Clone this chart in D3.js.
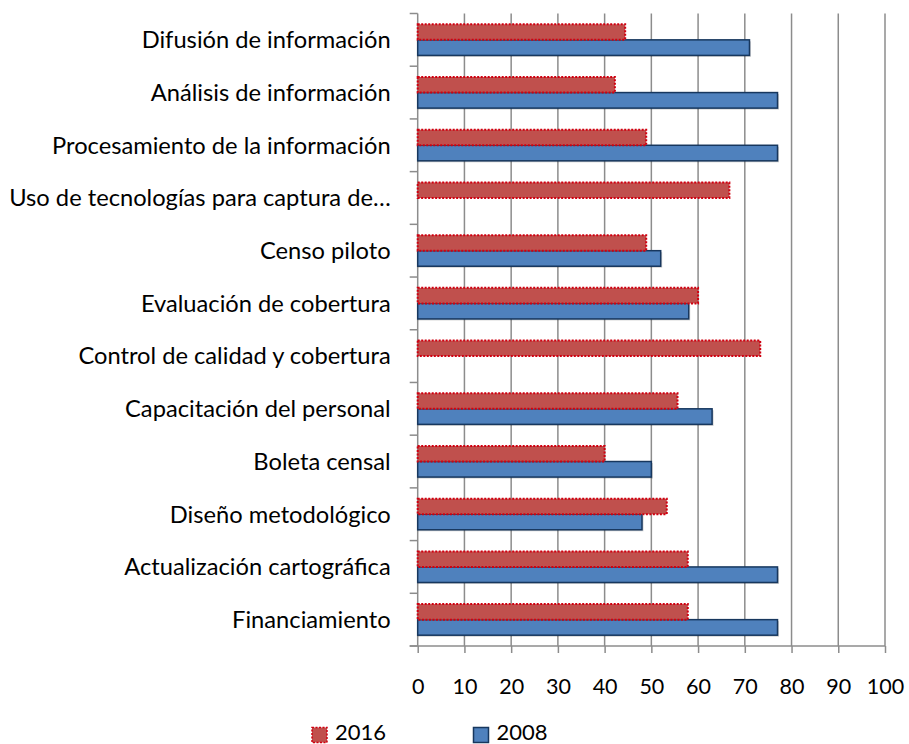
<!DOCTYPE html>
<html>
<head>
<meta charset="utf-8">
<script src="https://cdn.jsdelivr.net/npm/d3@7/dist/d3.min.js"></script>
<style>
  body { margin: 0; background: #fff; }
  text { font-family: Lato, "Open Sans", sans-serif; fill: #000; }
</style>
</head>
<body>
<div id="chart"></div>
<script>
// categories top to bottom
const categories = [
  "Difusión de información",
  "Análisis de información",
  "Procesamiento de la información",
  "Uso de tecnologías para captura de…",
  "Censo piloto",
  "Evaluación de cobertura",
  "Control de calidad y cobertura",
  "Capacitación del personal",
  "Boleta censal",
  "Diseño metodológico",
  "Actualización cartográfica",
  "Financiamiento"
];
const years = ["2016", "2008"];
const values2016 = [44.4, 42.2, 48.9, 66.7, 48.9, 60, 73.3, 55.6, 40, 53.3, 57.8, 57.8];
const values2008 = [71, 77, 77, null, 52, 58, null, 63, 50, 48, 77, 77];
const xTicks = [0, 10, 20, 30, 40, 50, 60, 70, 80, 90, 100];

function barChart() {
  let width = 909, height = 744;
  let margin = { top: 13.5, right: 24, bottom: 98, left: 417.7 };
  let chartWidth = width - margin.left - margin.right;
  let chartHeight = height - margin.top - margin.bottom;

  let svg = d3.select("#chart").append("svg")
    .attr("width", width)
    .attr("height", height);

  let chartGroup = svg.append("g")
    .attr("transform", `translate(${margin.left}, ${margin.top})`);

  let xScale = d3.scaleLinear().domain([0, 100]).range([0, chartWidth]);
  let yScale = d3.scaleBand().domain(categories).range([0, chartHeight])
    .paddingInner(0.41).paddingOuter(0.205);
  let subScale = d3.scaleBand().domain(years).range([0, yScale.bandwidth()]);

  //gridlines
  chartGroup.selectAll(".grid")
    .data(xTicks.slice(1))
    .enter().append("line")
    .attr("x1", d => xScale(d)).attr("x2", d => xScale(d))
    .attr("y1", 0).attr("y2", chartHeight)
    .attr("stroke", "#8c8c8c").attr("stroke-width", 1.5);

  //bottom axis
  let xAxis = d3.axisBottom(xScale).tickValues(xTicks).tickSize(7).tickPadding(26);
  let xg = chartGroup.append("g")
    .attr("transform", `translate(0, ${chartHeight})`)
    .call(xAxis);
  xg.select(".domain").attr("stroke", "#8c8c8c").attr("stroke-width", 1.5)
    .attr("d", `M-8,0H${chartWidth}`);
  xg.selectAll(".tick line").attr("stroke", "#8c8c8c").attr("stroke-width", 1.5);
  xg.selectAll(".tick text").style("font-size", "21.5px")
    .style("font-family", "Lato, sans-serif").attr("fill", "#000");

  //left axis line and category ticks
  chartGroup.append("line")
    .attr("x1", 0).attr("x2", 0).attr("y1", 0).attr("y2", chartHeight)
    .attr("stroke", "#8c8c8c").attr("stroke-width", 1.5);
  let step = yScale.step();
  chartGroup.selectAll(".ctick")
    .data(d3.range(categories.length + 1))
    .enter().append("line")
    .attr("x1", -8).attr("x2", 0)
    .attr("y1", d => d * step).attr("y2", d => d * step)
    .attr("stroke", "#8c8c8c").attr("stroke-width", 1.5);

  //category labels
  chartGroup.selectAll(".clabel")
    .data(categories)
    .enter().append("text")
    .attr("x", -27)
    .attr("y", d => yScale(d) + yScale.bandwidth() / 2)
    .attr("dy", "0.35em")
    .attr("text-anchor", "end")
    .style("font-size", "23.7px")
    .text(d => d);

  //2008 bars with shadow
  let blueData = categories.map((c, i) => ({ c: c, v: values2008[i] })).filter(d => d.v != null);
  chartGroup.selectAll(".shadow")
    .data(blueData)
    .enter().append("rect")
    .attr("x", 0)
    .attr("y", d => yScale(d.c) + subScale("2008") + 1.5)
    .attr("width", d => xScale(d.v) + 1.5)
    .attr("height", subScale.bandwidth())
    .attr("fill", "#000").attr("opacity", 0.18);
  chartGroup.selectAll(".b2008")
    .data(blueData)
    .enter().append("rect")
    .attr("x", 0)
    .attr("y", d => yScale(d.c) + subScale("2008"))
    .attr("width", d => xScale(d.v))
    .attr("height", subScale.bandwidth())
    .attr("fill", "#4f81bd")
    .attr("stroke", "#17375e").attr("stroke-width", 1.5);

  //2016 bars
  let redData = categories.map((c, i) => ({ c: c, v: values2016[i] }));
  chartGroup.selectAll(".b2016")
    .data(redData)
    .enter().append("rect")
    .attr("x", 0)
    .attr("y", d => yScale(d.c) + subScale("2016"))
    .attr("width", d => xScale(d.v))
    .attr("height", subScale.bandwidth())
    .attr("fill", "#c0504d")
    .attr("stroke", "#d00010").attr("stroke-width", 2)
    .attr("stroke-dasharray", "2,1.5");

  //legend
  let legend = svg.append("g");
  let items = [
    { label: "2016", x: 312, fill: "#c0504d", stroke: "#d00010", dash: "2,1.5" },
    { label: "2008", x: 473.5, fill: "#4f81bd", stroke: "#17375e", dash: null }
  ];
  items.forEach(it => {
    legend.append("rect")
      .attr("x", it.x).attr("y", 727.5).attr("width", 15).attr("height", 15)
      .attr("fill", it.fill).attr("stroke", it.stroke).attr("stroke-width", 1.5)
      .attr("stroke-dasharray", it.dash);
    legend.append("text")
      .attr("x", it.x + 23).attr("y", 739.5)
      .style("font-size", "22px")
      .text(it.label);
  });
}

barChart();
</script>
</body>
</html>
